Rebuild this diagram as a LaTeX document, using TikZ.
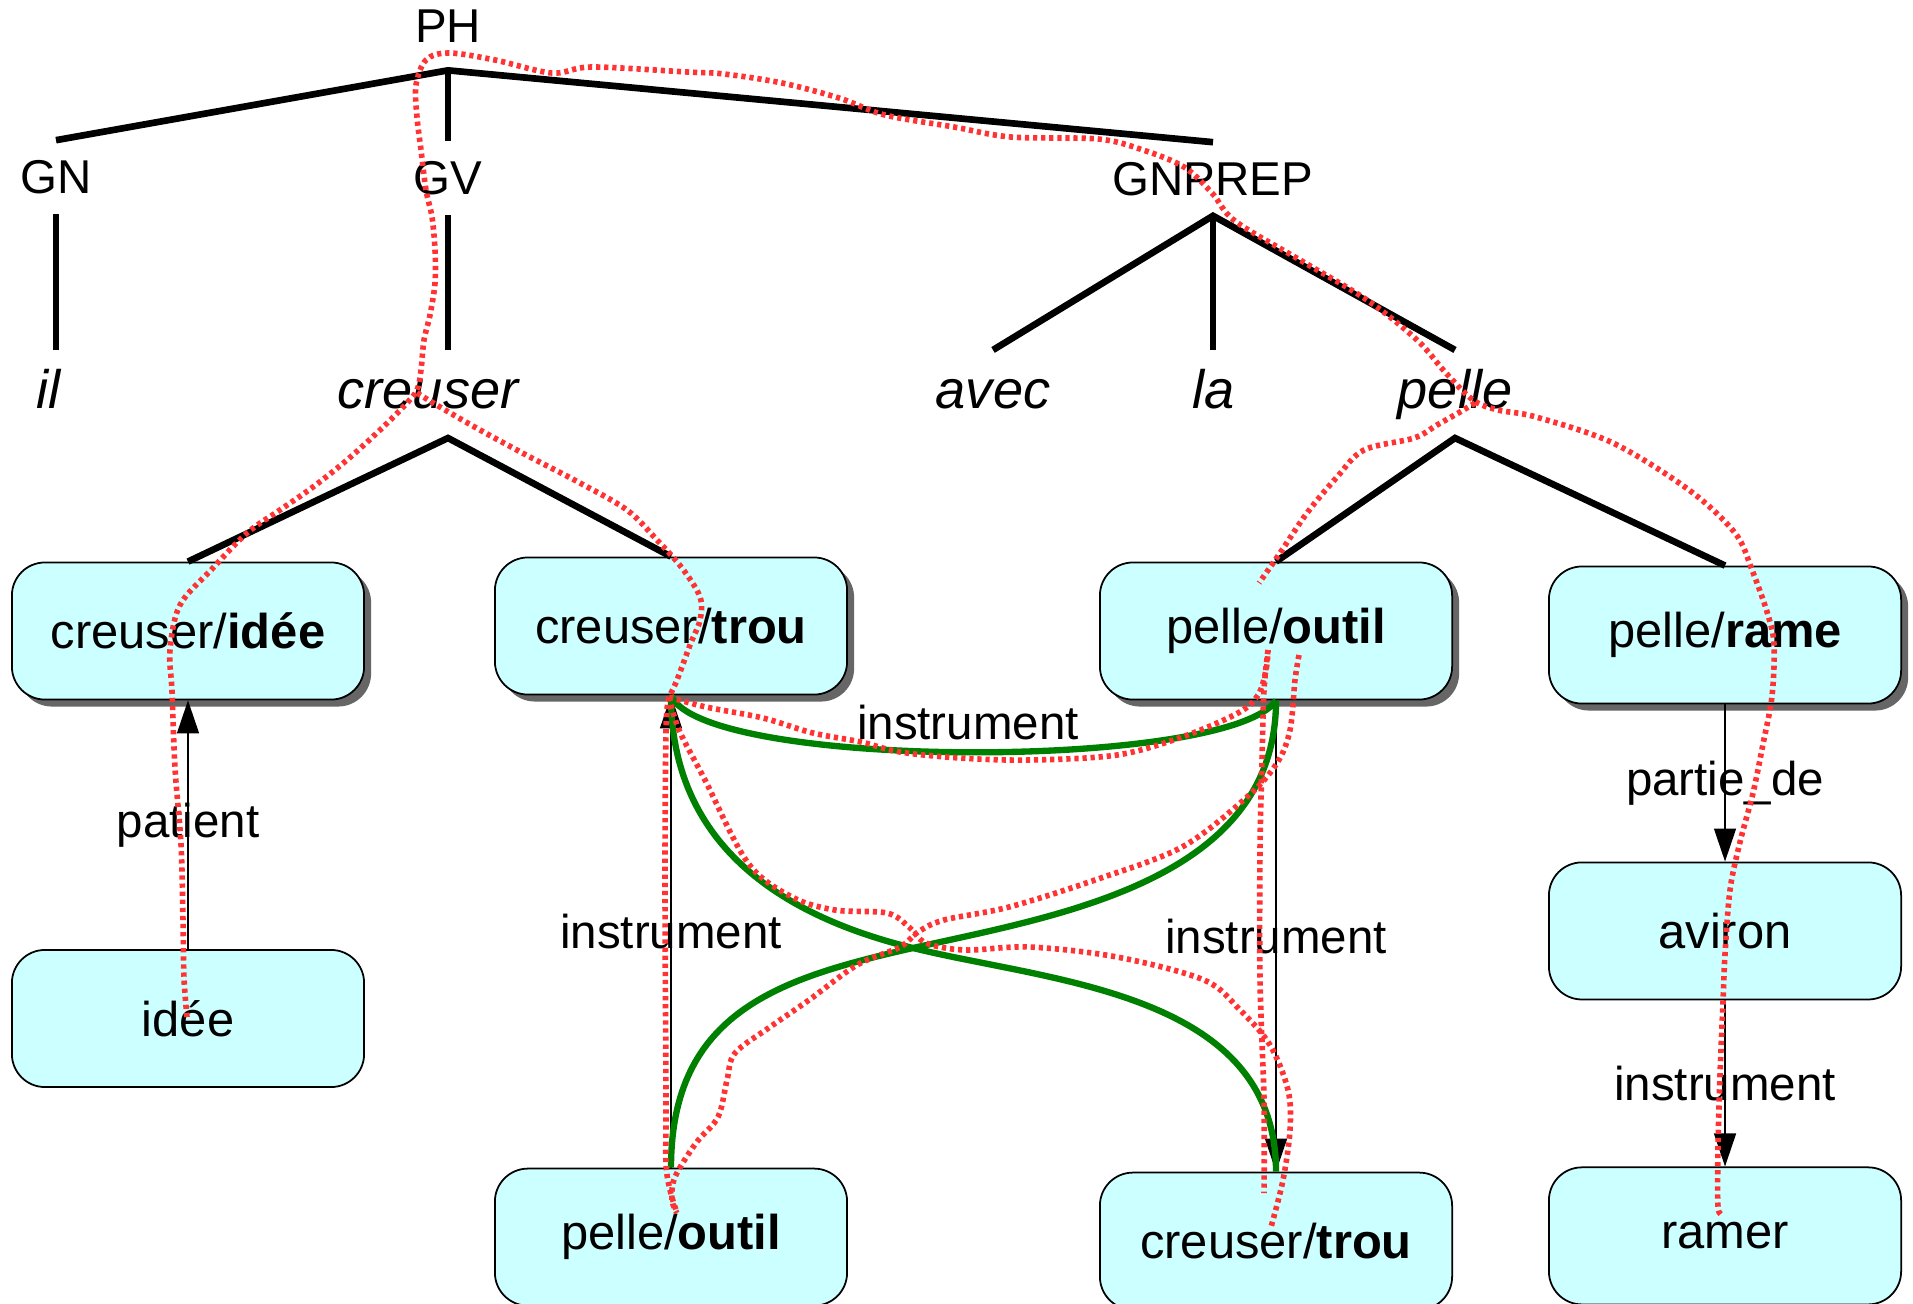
\documentclass[tikz,border=0pt]{standalone}
\usepackage{fontspec}
\setmainfont{Liberation Sans}
\usepackage{tikz}
\usetikzlibrary{positioning, arrows.meta, shadows, calc}
\definecolor{sensecyan}{RGB}{204,255,255}
\definecolor{senseshadow}{RGB}{102,102,102}
\definecolor{linkgreen}{RGB}{0,128,0}
\definecolor{trailred}{RGB}{255,51,51}

\begin{document}
\begin{tikzpicture}[
  x=0.01cm, y=-0.01cm,
  font=\fontsize{13.5}{16}\selectfont,
  catlabel/.style={inner sep=0pt, outer ysep=0.2cm},
  wordlabel/.style={font=\fontsize{15.4}{18}\selectfont\itshape, anchor=base, inner sep=0pt, outer ysep=0.19cm, text height=0.39cm, text depth=0.11cm},
  treeline/.style={line width=1.9pt},
  sensebox/.style={draw, fill=sensecyan, rounded corners=0.33cm, minimum width=3.52cm, minimum height=1.37cm, line width=0.5pt, font=\fontsize{13.9}{16}\selectfont},
  shadowed/.style={drop shadow={shadow xshift=0.07cm, shadow yshift=-0.07cm, fill=senseshadow, opacity=1}},
  relation/.style={line width=0.4pt, -{Triangle[length=0.33cm, width=0.22cm]}},
  greenlink/.style={draw=linkgreen, line width=1.8pt},
  trail/.style={draw=trailred, line width=1.6pt, dash pattern=on 1.2pt off 1.1pt},
]
  \useasboundingbox (0,0) rectangle (1913,1303);
  \clip (0,0) rectangle (1913,1303);

  % Syntax tree
  \node (ph) [catlabel, outer ysep=0.28cm] at (448,26) {PH};
  \node (gn) [catlabel] at (56,177) {GN};
  \node (gv) [catlabel] at (448,178) {GV};
  \node (gnprep) [catlabel] at (1213,179) {GNPREP};

  \node (il) [wordlabel] at (49,408) {il};
  \node (creuser) [wordlabel] at (428,408) {creuser};
  \node (avec) [wordlabel] at (993,408) {avec};
  \node (la) [wordlabel] at (1214,408) {la};
  \node (pelle) [wordlabel] at (1455,408) {pelle};

  \draw [treeline] (gn.north) -- (ph.south) -- (gnprep.north);
  \draw [treeline] (ph.south) -- (gv.north);
  \draw [treeline] (gn.south) -- (gn.south |- il.north);
  \draw [treeline] (gv.south) -- (gv.south |- creuser.north);
  \draw [treeline] (avec.north) -- (gnprep.south) -- (pelle.north);
  \draw [treeline] (gnprep.south) -- (gnprep.south |- la.north);

  % Senses
  \node (cidee) [sensebox, shadowed] at (188,631) {creuser/\textbf{idée}};
  \node (ctrou) [sensebox, shadowed] at (671,626) {creuser/\textbf{trou}};
  \node (poutil) [sensebox, shadowed] at (1276,631) {pelle/\textbf{outil}};
  \node (prame) [sensebox, shadowed] at (1725,635) {pelle/\textbf{rame}};

  \node (idee) [sensebox, below=2.485cm of cidee] {idée};
  \node (poutilb) [sensebox, below=4.72cm of ctrou] {pelle/\textbf{outil}};
  \node (ctroub) [sensebox, below=4.71cm of poutil] {creuser/\textbf{trou}};
  \node (aviron) [sensebox, below=1.57cm of prame] {aviron};
  \node (ramer) [sensebox, below=1.66cm of aviron] {ramer};

  \draw [treeline] (cidee.north) -- (gv.south |- creuser.south) -- (ctrou.north);
  \draw [treeline] (poutil.north) -- (pelle.south) -- (prame.north);

  % Relations between senses
  \foreach \src/\dst/\lbl in {idee.north/cidee.south/patient, poutilb.north/ctrou.south/instrument,
      poutil.south/ctroub.north/instrument, prame.south/aviron.north/partie\_de, aviron.south/ramer.north/instrument} {
    \draw [relation] (\src) -- (\dst) node [midway] {\lbl};
  }

  % Green links
  \coordinate (cross) at (913,948);
  \draw [greenlink] (ctrou.south) .. controls +(32,75) and +(-47,70) .. (poutil.south)
    node [midway, yshift=0.3cm] {instrument};
  \draw [greenlink] (ctrou.south) .. controls +(0,155) and +(-123,-30) .. (cross)
    .. controls +(137,34) and +(0,-180) .. (ctroub.north);
  \draw [greenlink] (poutil.south) .. controls +(0,180) and +(147,-33) .. (cross)
    .. controls +(-133,30) and +(0,-156) .. (poutilb.north);

  % Red trail
  \draw [trail] plot [smooth, tension=0.55] coordinates {(187,1017) (184,978) (183,921) (181,844) (175,768) (172,691) (170,650) (180,605) (212,569) (247,533) (280,510) (313,487) (347,460) (380,430) (405,405) (417,390) (421,370) (424,340) (430,315) (435,283) (435,250) (432,217) (426,190) (421,150) (417,117) (416,85) (426,60) (449,53) (495,60) (552,73) (592,67) (687,72) (724,74) (782,83) (839,98) (885,115) (954,127) (1011,137) (1098,139) (1143,150) (1184,167) (1212,193) (1235,221) (1300,260) (1367,300) (1417,340) (1445,372) (1473,400) (1498,410) (1536,417) (1613,443) (1689,490) (1735,533) (1752,570) (1768,615) (1774,645) (1772,696) (1763,744) (1753,793) (1740,842) (1730,890) (1725,954) (1723,1002) (1720,1075) (1718,1148) (1718,1207) (1723,1214)};
  \draw [trail] plot [smooth, tension=0.55] coordinates {(417,393) (440,407) (480,430) (530,457) (580,483) (627,510) (657,540) (682,568) (700,597) (700,620) (690,645) (677,680) (669,697)};
  \draw [trail] plot [smooth, tension=0.55] coordinates {(669,697) (666,730) (665,880) (666,1100) (666,1163) (670,1190) (677,1213)};
  \draw [trail] plot [smooth, tension=0.55] coordinates {(669,697) (706,707) (763,718) (813,733) (861,742) (900,752) (960,758) (1030,760) (1117,755) (1182,737) (1238,713) (1258,695) (1266,670) (1268,650)};
  \draw [trail] plot [smooth, tension=0.55] coordinates {(1268,650) (1264,690) (1262,760) (1260,850) (1260,980) (1264,1100) (1264,1193)};
  \draw [trail] plot [smooth, tension=0.55] coordinates {(669,697) (679,730) (705,780) (748,863) (792,897) (835,910) (887,913) (909,927) (926,943) (965,950) (1030,947) (1117,957) (1204,980) (1240,1010) (1270,1045) (1288,1090) (1290,1130) (1283,1180) (1271,1227)};
  \draw [trail] plot [smooth, tension=0.55] coordinates {(1299,655) (1295,680) (1290,730) (1277,763) (1247,797) (1182,847) (1095,880) (1009,907) (944,920) (918,932) (900,947) (857,965) (809,1000) (770,1027) (735,1053) (727,1080) (718,1117) (696,1143) (675,1177) (672,1200) (677,1213)};
  \draw [trail] plot [smooth, tension=0.55] coordinates {(1475,403) (1460,412) (1437,425) (1414,438) (1364,450) (1337,477) (1307,513) (1280,553) (1259,583)};

\end{tikzpicture}
\end{document}
